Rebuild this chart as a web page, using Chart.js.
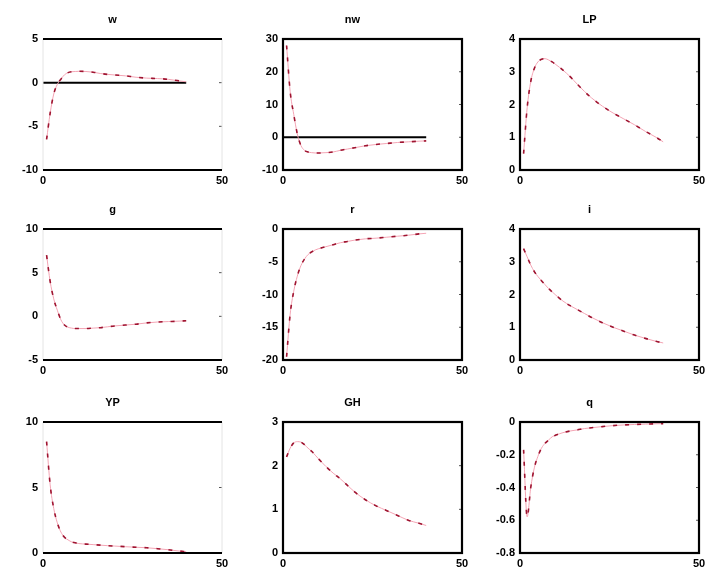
<!DOCTYPE html>
<html>
<head>
<meta charset="utf-8">
<script src="https://cdn.jsdelivr.net/npm/chart.js@4/dist/chart.umd.min.js"></script>
<style>
  body { margin: 0; background: #fff; }
  #wrap { position: relative; width: 709px; height: 572px; overflow: hidden; }
  #wrap canvas { position: absolute; }
</style>
</head>
<body>
<div id="wrap"></div>
<script>
// horizon (periods after the shock)
const periods = [1, 2, 3, 4, 5, 6, 7, 8, 9, 10, 12, 14, 16, 18, 20, 23, 26, 29, 32, 35, 38, 40];
const zeroX = [0, 40];

const titles = ['w', 'nw', 'LP', 'g', 'r', 'i', 'YP', 'GH', 'q'];

const wResp  = [-6.5, -3.5, -1.3, -0.2, 0.4, 0.9, 1.15, 1.25, 1.28, 1.3, 1.28, 1.2, 1.05, 0.95, 0.88, 0.78, 0.62, 0.52, 0.47, 0.38, 0.2, 0.1];
const nwResp = [28, 14, 7, 1, -2.5, -4, -4.5, -4.7, -4.8, -4.8, -4.7, -4.5, -4, -3.6, -3.2, -2.6, -2.2, -1.9, -1.6, -1.4, -1.2, -1.1];
const lpResp = [0.5, 1.9, 2.7, 3.1, 3.3, 3.38, 3.4, 3.36, 3.3, 3.22, 3.05, 2.85, 2.62, 2.4, 2.2, 1.95, 1.74, 1.56, 1.38, 1.18, 1.0, 0.86];
const gResp  = [7, 4, 2, 0.7, -0.4, -1.0, -1.25, -1.35, -1.4, -1.4, -1.4, -1.35, -1.3, -1.2, -1.1, -1.0, -0.9, -0.75, -0.65, -0.6, -0.55, -0.5];
const rResp  = [-19.5, -13, -9.5, -7.2, -5.6, -4.6, -3.9, -3.5, -3.2, -3.0, -2.7, -2.4, -2.1, -1.9, -1.7, -1.5, -1.4, -1.25, -1.1, -0.95, -0.75, -0.65];
const iResp  = [3.4, 3.15, 2.9, 2.7, 2.55, 2.42, 2.3, 2.18, 2.08, 1.98, 1.8, 1.66, 1.54, 1.42, 1.3, 1.14, 1.0, 0.88, 0.76, 0.66, 0.57, 0.52];
const ypResp = [8.5, 5.2, 3.4, 2.3, 1.6, 1.2, 1.0, 0.85, 0.78, 0.72, 0.68, 0.64, 0.6, 0.56, 0.53, 0.48, 0.44, 0.4, 0.33, 0.25, 0.15, 0.1];
const ghResp = [2.2, 2.4, 2.52, 2.55, 2.54, 2.48, 2.4, 2.33, 2.24, 2.15, 1.98, 1.83, 1.7, 1.55, 1.4, 1.22, 1.08, 0.97, 0.86, 0.75, 0.68, 0.63];
const qResp  = [-0.17, -0.58, -0.4, -0.28, -0.21, -0.16, -0.13, -0.11, -0.09, -0.08, -0.065, -0.055, -0.048, -0.04, -0.035, -0.028, -0.022, -0.018, -0.015, -0.013, -0.011, -0.01];

const responses = [wResp, nwResp, lpResp, gResp, rResp, iResp, ypResp, ghResp, qResp];

// y-axis limits and tick step for each panel
const yMin  = [-10, -10, 0, -5, -20, 0, 0, 0, -0.8];
const yMax  = [5, 30, 4, 10, 0, 4, 10, 3, 0];
const yStep = [5, 10, 1, 5, 5, 1, 5, 1, 0.2];
const xTicks = [0, 50];

// which panels get the black zero line, which have an open (top/bottom only) frame
const withZero = [true, true, false, false, false, false, false, false, false];
const openFrame = [true, false, false, true, false, false, true, false, false];

const colLeft = [43, 283, 520];
const rowTop = [39, 229, 422];
const plotW = 179, plotH = 131;
const AXW = 40, TOP = 32, BOT = 20, RPAD = 8;

const framePlugin = {
  id: 'frame',
  afterDatasetsDraw(chart, args, opts) {
    const {ctx, chartArea: a} = chart;
    ctx.save();
    // small inside ticks on the right edge
    const ys = chart.scales.y;
    ctx.strokeStyle = '#555';
    ctx.lineWidth = 1;
    ys.ticks.forEach(t => {
      const py = ys.getPixelForValue(t.value);
      ctx.beginPath();
      ctx.moveTo(a.right - 3, py);
      ctx.lineTo(a.right, py);
      ctx.stroke();
    });
    if (opts.open) {
      ctx.strokeStyle = '#e4e4e4';
      ctx.lineWidth = 1;
      ctx.beginPath();
      ctx.moveTo(a.left, a.top); ctx.lineTo(a.left, a.bottom);
      ctx.moveTo(a.right, a.top); ctx.lineTo(a.right, a.bottom);
      ctx.stroke();
      ctx.strokeStyle = '#000';
      ctx.lineWidth = 2.2;
      ctx.beginPath();
      ctx.moveTo(a.left, a.top); ctx.lineTo(a.right, a.top);
      ctx.moveTo(a.left, a.bottom); ctx.lineTo(a.right, a.bottom);
      ctx.stroke();
    } else {
      ctx.strokeStyle = '#000';
      ctx.lineWidth = 2.2;
      ctx.strokeRect(a.left, a.top, a.right - a.left, a.bottom - a.top);
    }
    ctx.restore();
  }
};

function makePanel(i) {
  const row = Math.floor(i / 3), col = i % 3;
  const canvas = document.createElement('canvas');
  const w = AXW + plotW + RPAD, h = TOP + plotH + BOT;
  canvas.width = w; canvas.height = h;
  canvas.style.left = (colLeft[col] - AXW) + 'px';
  canvas.style.top = (rowTop[row] - TOP) + 'px';
  canvas.style.width = w + 'px';
  canvas.style.height = h + 'px';
  document.getElementById('wrap').appendChild(canvas);

  const resp = responses[i];
  const pts = periods.map((p, k) => ({x: p, y: resp[k]}));
  const datasets = [
    { data: pts, borderColor: '#f4a4b4', borderWidth: 1, pointRadius: 0,
      cubicInterpolationMode: 'monotone', order: 2 },
    { data: pts, borderColor: '#9e1430', borderWidth: 1.6, borderDash: [4, 8],
      pointRadius: 0, cubicInterpolationMode: 'monotone', order: 1 }
  ];
  if (withZero[i]) {
    datasets.push({ data: zeroX.map(x => ({x: x, y: 0})), borderColor: '#000',
      borderWidth: 2, pointRadius: 0, order: 3 });
  }

  new Chart(canvas, {
    type: 'line',
    data: { datasets: datasets },
    plugins: [framePlugin],
    options: {
      responsive: false,
      animation: false,
      layout: { padding: { left: 0, right: RPAD, top: 0, bottom: 0 } },
      plugins: {
        legend: { display: false },
        tooltip: { enabled: false },
        title: {
          display: true, text: titles[i], color: '#000',
          font: { family: 'Liberation Sans', size: 11, weight: 'bold' },
          padding: { top: 6, bottom: 12.8 }
        },
        frame: { open: openFrame[i] }
      },
      scales: {
        x: {
          type: 'linear', min: 0, max: 50,
          grid: { display: false, drawTicks: false },
          border: { display: false },
          afterBuildTicks: s => { s.ticks = xTicks.map(v => ({value: v})); },
          afterFit: s => { s.height = BOT; s.paddingLeft = 0; s.paddingRight = 0; },
          ticks: { color: '#000', padding: 4, maxRotation: 0,
            font: { family: 'Liberation Sans', size: 11, weight: 'bold' } }
        },
        y: {
          min: yMin[i], max: yMax[i],
          grid: { display: false, drawTicks: false },
          border: { display: false },
          afterFit: s => { s.width = AXW; s.paddingTop = 0; s.paddingBottom = 0; },
          ticks: { stepSize: yStep[i], color: '#000', padding: 5,
            font: { family: 'Liberation Sans', size: 11, weight: 'bold' } }
        }
      }
    }
  });
}

for (let i = 0; i < 9; i++) makePanel(i);
</script>
</body>
</html>
